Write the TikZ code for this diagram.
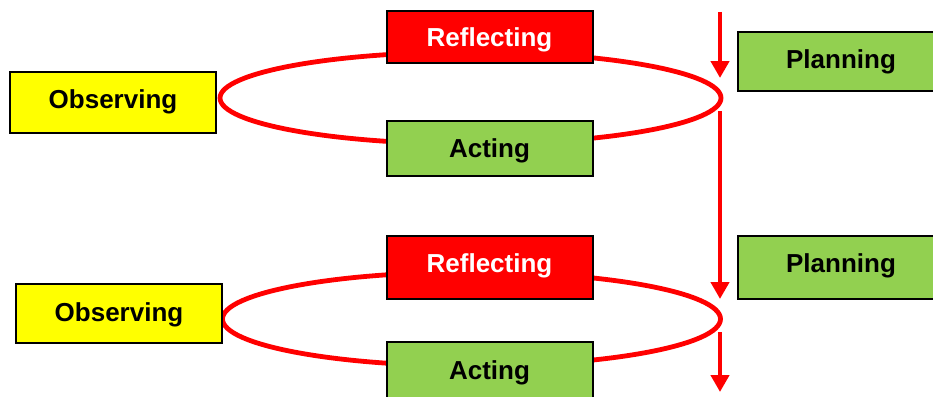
\documentclass[tikz,border=0pt]{standalone}
\usepackage{fontspec}
\setmainfont{Liberation Sans}
\usetikzlibrary{shapes.geometric, arrows.meta}

\definecolor{boxred}{HTML}{FF0000}
\definecolor{boxgreen}{HTML}{92D050}
\definecolor{boxyellow}{HTML}{FFFF00}

\begin{document}
\begin{tikzpicture}[x=1pt, y=-1pt, inner sep=0pt,
    stage/.style={draw=black, line width=2pt, minimum width=206pt,
                  text depth=5pt,
                  font=\fontsize{26}{30}\selectfont\bfseries},
    loop/.style={ellipse, draw=boxred, line width=4.8pt},
    flow/.style={draw=boxred, line width=4.5pt,
                 -{Triangle[width=18pt, length=17pt]}}]
    \clip (0,0) rectangle (933,396);

    % cycle 1
    \node[loop, minimum width=501pt, minimum height=92pt] (LA) at (470.5,98) {};
    \node[stage, fill=boxyellow, minimum height=61pt, text height=16pt] (OA) at (113,102.5) {Observing};
    \node[stage, fill=boxred, text=white, minimum height=52pt, text height=25pt] (RA) at (489.5,37) {Reflecting};
    \node[stage, fill=boxgreen, minimum height=55pt, text height=23pt] (AA) at (489.5,148.5) {Acting};
    \node[stage, fill=boxgreen, minimum height=59pt, text height=18pt] (PA) at (841,61.5) {Planning};

    % cycle 2
    \node[loop, minimum width=498pt, minimum height=94pt] (LB) at (471.5,319) {};
    \node[stage, fill=boxyellow, minimum height=59pt, text height=20pt] (OB) at (119,313.5) {Observing};
    \node[stage, fill=boxred, text=white, minimum height=63pt, text height=14pt] (RB) at (489.5,267.5) {Reflecting};
    \node[stage, fill=boxgreen, minimum height=56pt, text height=23pt] (AB) at (489.5,370) {Acting};
    \node[stage, fill=boxgreen, minimum height=63pt, text height=14pt] (PB) at (841,267.5) {Planning};

    % time line
    \coordinate (T0) at (720,12);
    \coordinate (T1) at (720,78);
    \coordinate (T2) at (720,111);
    \coordinate (T3) at (720,299);
    \coordinate (T4) at (720,332);
    \coordinate (T5) at (720,392);
    \draw[flow] (T0) -- (T1);
    \draw[flow] (T2) -- (T3);
    \draw[flow] (T4) -- (T5);
\end{tikzpicture}
\end{document}
